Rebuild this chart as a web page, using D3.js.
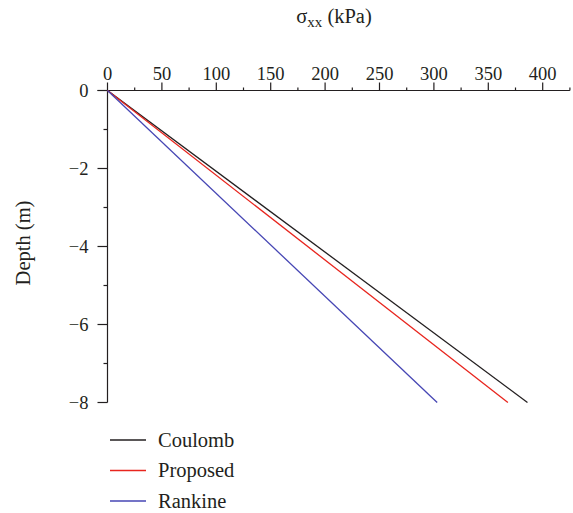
<!DOCTYPE html>
<html>
<head>
<meta charset="utf-8">
<script src="https://cdn.jsdelivr.net/npm/d3@7"></script>
<style>
  body { margin: 0; background: #fff; }
  svg text { font-family: "Liberation Serif", "DejaVu Serif", serif; fill: #231f20; }
</style>
</head>
<body>
<svg id="chart" width="573" height="513"></svg>
<script>
// data: straight profiles from surface to 8 m depth
var depth = [0, -8];
var coulomb = [0, 386];
var proposed = [0, 368];
var rankine = [0, 303];
var seriesNames = ['Coulomb', 'Proposed', 'Rankine'];
var seriesColors = ['#231f20', '#e8251e', '#4646b4'];
var xTicks = [0, 50, 100, 150, 200, 250, 300, 350, 400];
var yTicks = [0, -2, -4, -6, -8];

var svg = d3.select('#chart');
var fs = 18.5;   // tick labels
var fw = 20.5;   // words

var x = d3.scaleLinear().domain([0, 425]).range([107.5, 569.9]);
var y = d3.scaleLinear().domain([0, -8]).range([90.5, 402.5]);

// x axis on top, ticks pointing up
var gx = svg.append('g').attr('transform', 'translate(0,' + y(0) + ')');
gx.append('line')
    .attr('x1', 97.5).attr('x2', x(425))
    .attr('stroke', '#231f20').attr('stroke-width', 1.2);
gx.selectAll('.minor').data(d3.range(25, 426, 50)).enter()
    .append('line')
    .attr('x1', d => x(d)).attr('x2', d => x(d))
    .attr('y1', 0).attr('y2', -3)
    .attr('stroke', '#231f20').attr('stroke-width', 1.2);
gx.selectAll('.major').data(xTicks).enter()
    .append('line')
    .attr('x1', d => x(d)).attr('x2', d => x(d))
    .attr('y1', 0).attr('y2', -8)
    .attr('stroke', '#231f20').attr('stroke-width', 1.2);
gx.selectAll('text').data(xTicks).enter()
    .append('text')
    .attr('x', d => x(d)).attr('y', -11)
    .attr('text-anchor', 'middle')
    .style('font-size', fs + 'px')
    .text(d => d);

// y axis, ticks pointing left
var gy = svg.append('g').attr('transform', 'translate(' + x(0) + ',0)');
gy.append('line')
    .attr('y1', y(0)).attr('y2', y(-8))
    .attr('stroke', '#231f20').attr('stroke-width', 1.2);
gy.selectAll('.minor').data([-1, -3, -5, -7]).enter()
    .append('line')
    .attr('y1', d => y(d)).attr('y2', d => y(d))
    .attr('x1', 0).attr('x2', -4)
    .attr('stroke', '#231f20').attr('stroke-width', 1.2);
gy.selectAll('.major').data(yTicks).enter()
    .append('line')
    .attr('y1', d => y(d)).attr('y2', d => y(d))
    .attr('x1', 0).attr('x2', -10)
    .attr('stroke', '#231f20').attr('stroke-width', 1.2);
gy.selectAll('text').data(yTicks).enter()
    .append('text')
    .attr('x', -19).attr('y', d => y(d))
    .attr('dy', '0.34em')
    .attr('text-anchor', 'end')
    .style('font-size', fs + 'px')
    .text(d => d === 0 ? '0' : '\u2212' + Math.abs(d));

// axis titles
var title = svg.append('text')
    .attr('x', 334).attr('y', 23)
    .attr('text-anchor', 'middle')
    .style('font-size', fw + 'px');
title.append('tspan').text('\u03c3');
title.append('tspan').attr('dy', 4).style('font-size', '15px').text('xx');
title.append('tspan').attr('dy', -4).text(' (kPa)');

svg.append('text')
    .attr('transform', 'translate(30,243) rotate(-90)')
    .attr('text-anchor', 'middle')
    .style('font-size', fw + 'px')
    .text('Depth (m)');

// lines
var allSeries = [coulomb, proposed, rankine];
var line = d3.line()
    .x(d => x(d[0]))
    .y(d => y(d[1]));

svg.selectAll('.series').data(allSeries).enter()
    .append('path')
    .attr('d', s => line(s.map((v, i) => [v, depth[i]])))
    .attr('fill', 'none')
    .attr('stroke', (s, i) => seriesColors[i])
    .attr('stroke-width', 1.3);

// legend
var leg = svg.selectAll('.leg').data(seriesNames).enter()
    .append('g')
    .attr('transform', (d, i) => 'translate(110,' + (440 + i * 30.5) + ')');
leg.append('line')
    .attr('x1', 0).attr('x2', 36)
    .attr('stroke', (d, i) => seriesColors[i])
    .attr('stroke-width', 1.5);
leg.append('text')
    .attr('x', 48).attr('dy', '0.34em')
    .style('font-size', fw + 'px')
    .text(d => d);
</script>
</body>
</html>
